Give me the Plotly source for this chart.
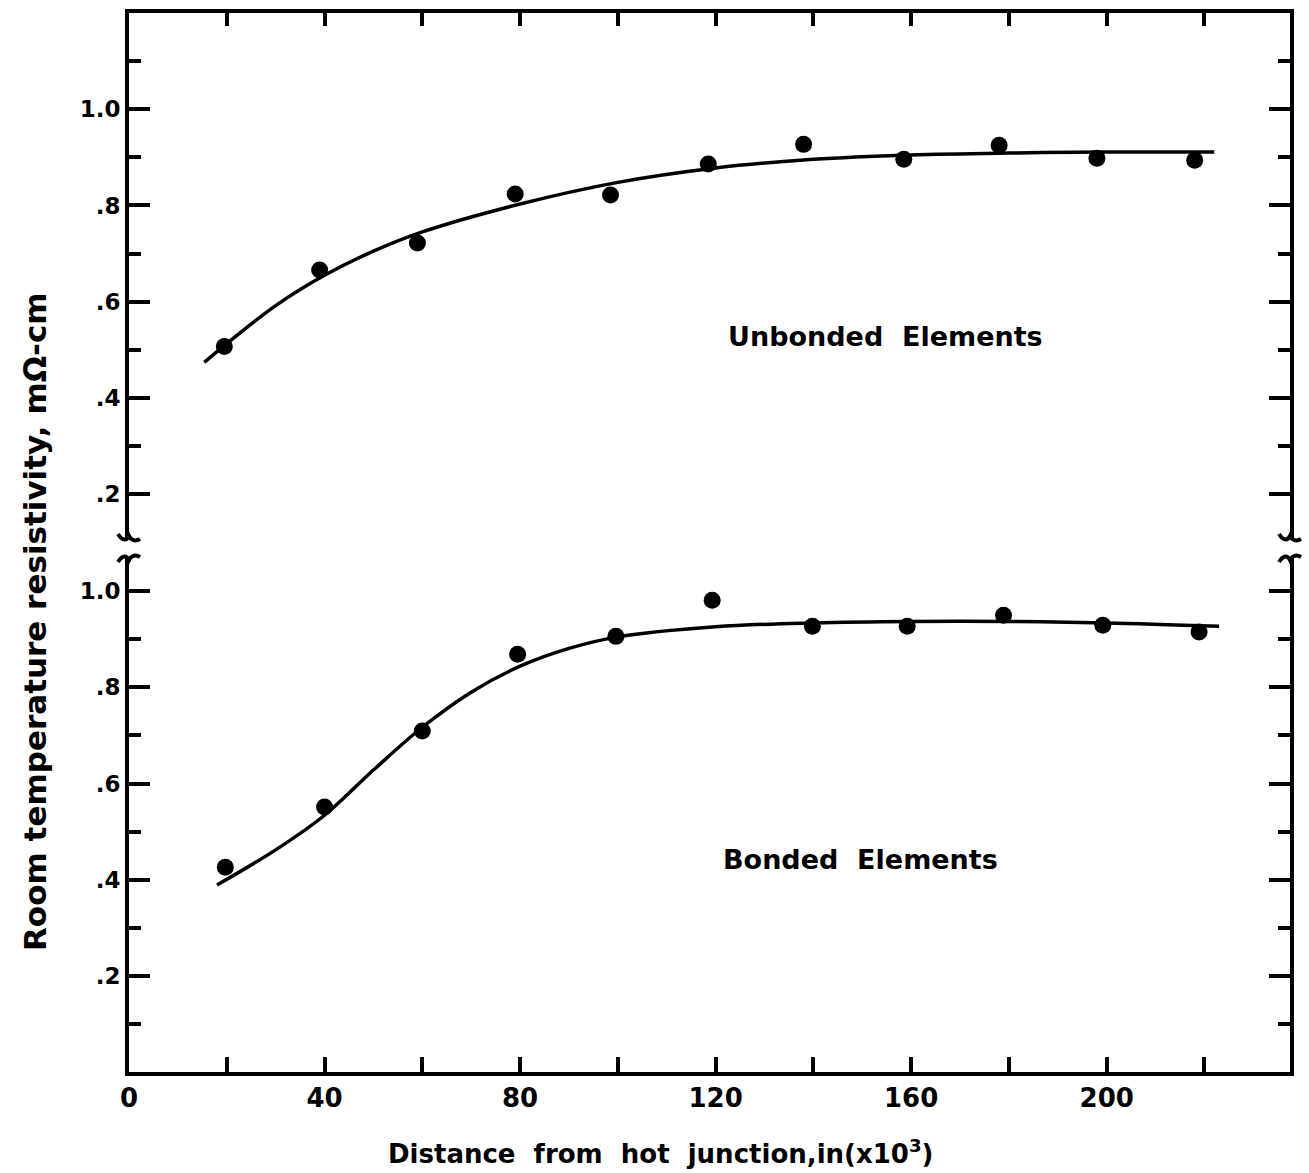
import plotly.graph_objects as go

# ---------------- data ----------------
unb_x = [19.5, 39, 59, 79, 98.5, 118.5, 138, 158.5, 178, 198, 218]
unb_y = [0.507, 0.666, 0.722, 0.824, 0.822, 0.886, 0.927, 0.896, 0.925, 0.898, 0.894]
unb_curve_x = [15.4, 20, 30, 40, 50, 60, 80, 100, 120, 140, 160, 180, 200, 222]
unb_curve_y = [0.474, 0.513, 0.592, 0.655, 0.705, 0.745, 0.803, 0.848, 0.878, 0.896, 0.905, 0.909, 0.911, 0.911]

bon_x = [19.7, 40, 60, 79.5, 99.6, 119.3, 139.8, 159.2, 178.9, 199.2, 218.9]
bon_y = [0.426, 0.551, 0.709, 0.869, 0.906, 0.981, 0.927, 0.927, 0.950, 0.929, 0.915]
bon_curve_x = [18, 30, 40, 50, 60, 70, 80, 90, 100, 120, 140, 160, 180, 200, 223]
bon_curve_y = [0.389, 0.462, 0.534, 0.628, 0.717, 0.790, 0.844, 0.881, 0.905, 0.926, 0.934, 0.937, 0.937, 0.934, 0.927]

x_major_vals = [0, 40, 80, 120, 160, 200]
x_major_text = ["0", "40", "80", "120", "160", "200"]
x_minor_vals = [20, 60, 100, 140, 180, 220]
y_tickvals = [0.2, 0.4, 0.6, 0.8, 1.0]
y_ticktext = [".2", ".4", ".6", ".8", "1.0"]

# ---------------- figure ----------------
FONT = "DejaVu Sans"
INK = "#000000"

fig = go.Figure()
# upper panel (unbonded) -> x2 / y2
fig.add_trace(go.Scatter(x=unb_curve_x, y=unb_curve_y, mode="lines", xaxis="x2", yaxis="y2",
                         line=dict(color=INK, width=3.5, shape="spline", smoothing=1.0),
                         hoverinfo="skip", showlegend=False))
fig.add_trace(go.Scatter(x=unb_x, y=unb_y, mode="markers", xaxis="x2", yaxis="y2",
                         marker=dict(color=INK, size=17), showlegend=False))
# lower panel (bonded) -> x / y
fig.add_trace(go.Scatter(x=bon_curve_x, y=bon_curve_y, mode="lines", xaxis="x", yaxis="y",
                         line=dict(color=INK, width=3.5, shape="spline", smoothing=1.0),
                         hoverinfo="skip", showlegend=False))
fig.add_trace(go.Scatter(x=bon_x, y=bon_y, mode="markers", xaxis="x", yaxis="y",
                         marker=dict(color=INK, size=17), showlegend=False))

L, R, T, B = 129, 19, 13, 101
W, H = 1309, 1173
PH = H - T - B
PW = W - L - R
up_bottom = (1072 - 538) / PH
lo_top = (1072 - 558) / PH

tickfont = dict(family=FONT, size=23, color=INK, weight="bold")

common_y = dict(showline=True, linewidth=4, linecolor=INK, mirror="ticks",
                ticks="inside", ticklen=21, tickwidth=4, tickcolor=INK,
                tickmode="array", tickvals=y_tickvals, ticktext=y_ticktext,
                tickfont=tickfont, showgrid=False, zeroline=False,
                minor=dict(ticks="inside", ticklen=12, tickwidth=4, tickcolor=INK,
                           tickmode="linear", tick0=0.1, dtick=0.2, showgrid=False))

common_x_minor = dict(ticks="inside", ticklen=15, tickwidth=3.5, tickcolor=INK,
                      tickmode="array", tickvals=x_minor_vals, showgrid=False)

fig.update_layout(
    width=W, height=H,
    margin=dict(l=L, r=R, t=T, b=B),
    paper_bgcolor="white", plot_bgcolor="white",
    font=dict(family=FONT, color=INK),
    showlegend=False,
    xaxis=dict(domain=[0, 1], anchor="y", side="bottom", range=[0, 237.5],
               showline=True, linewidth=4, linecolor=INK,
               ticks="inside", ticklen=15, tickwidth=3.5, tickcolor=INK,
               tickmode="array", tickvals=x_major_vals, ticktext=x_major_text,
               tickfont=dict(family=FONT, size=26, color=INK, weight="bold"),
               minor=common_x_minor,
               showgrid=False, zeroline=False),
    xaxis2=dict(domain=[0, 1], anchor="y2", side="top", matches="x", range=[0, 237.5],
                showline=True, linewidth=4, linecolor=INK,
                ticks="inside", ticklen=13, tickwidth=3.5, tickcolor=INK,
                tickmode="array", tickvals=x_major_vals[1:], showticklabels=False,
                minor=dict(common_x_minor, ticklen=13),
                showgrid=False, zeroline=False),
    yaxis=dict(domain=[0, lo_top], anchor="x", range=[0, 1.069], **common_y),
    yaxis2=dict(domain=[up_bottom, 1], anchor="x2", range=[0.109, 1.2], **common_y),
)

# axis titles and panel labels
fig.add_annotation(text="Distance  from  hot  junction,in(x10<sup>3</sup>)",
                   xref="paper", yref="paper", x=(660 - L) / PW, y=(1072 - 1152) / PH,
                   xanchor="center", yanchor="middle", showarrow=False,
                   font=dict(family=FONT, size=26, color=INK, weight="bold"))
fig.add_annotation(text="Room temperature resistivity, mΩ-cm",
                   xref="paper", yref="paper", x=(35 - L) / PW, y=(1072 - 622) / PH,
                   xanchor="center", yanchor="middle", textangle=-90, showarrow=False,
                   font=dict(family=FONT, size=31, color=INK, weight="bold"))
fig.add_annotation(text="Unbonded  Elements", xref="x2", yref="y2", x=154.7, y=0.527,
                   showarrow=False, font=dict(family=FONT, size=27, color=INK, weight="bold"))
fig.add_annotation(text="Bonded  Elements", xref="x", yref="y", x=149.6, y=0.441,
                   showarrow=False, font=dict(family=FONT, size=27, color=INK, weight="bold"))

# axis-break curls
curl_down = "M -11,4 C -6,-4 -2,-2 0,2 C 2,-2 6,-4 11,-1"
curl_up = "M -11,-4 C -6,4 -2,2 0,-2 C 2,2 6,4 11,1"
for xa in (0, 1):
    fig.add_shape(type="path", xref="paper", yref="paper", xsizemode="pixel", ysizemode="pixel",
                  xanchor=xa, yanchor=up_bottom, path=curl_down,
                  line=dict(color=INK, width=4))
    fig.add_shape(type="path", xref="paper", yref="paper", xsizemode="pixel", ysizemode="pixel",
                  xanchor=xa, yanchor=lo_top, path=curl_up,
                  line=dict(color=INK, width=4))

fig.write_html("out.html")
